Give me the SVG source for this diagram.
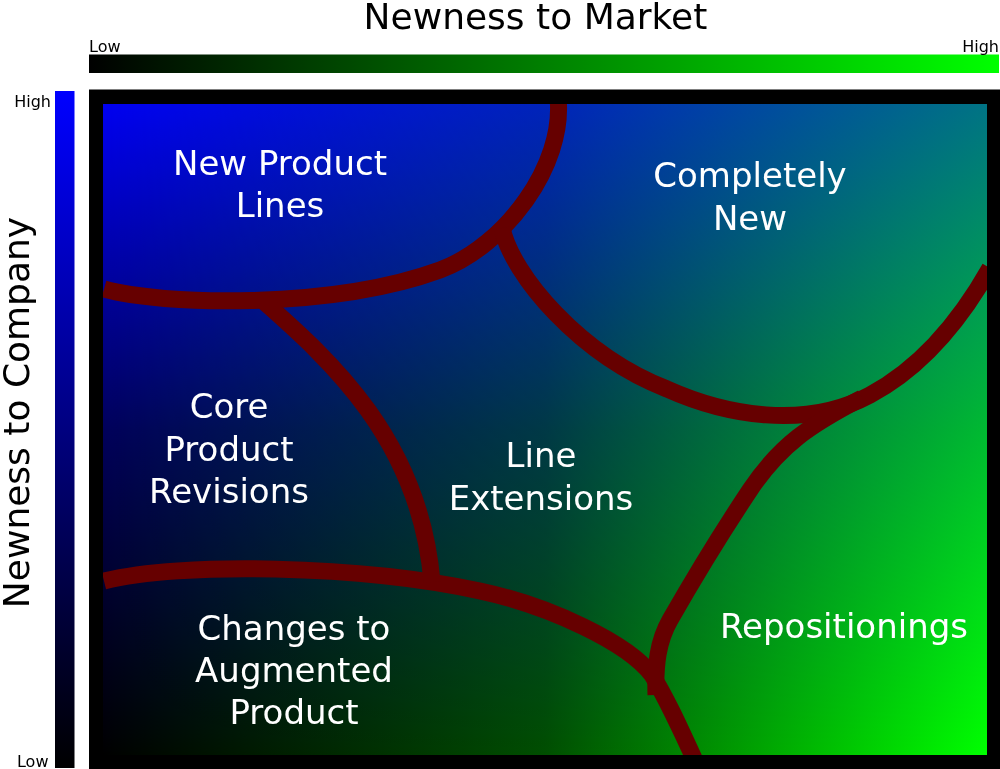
<svg xmlns="http://www.w3.org/2000/svg" width="1000" height="769" viewBox="0 0 1000 769">
<defs>
<style>
text { font-family: "DejaVu Sans", "Liberation Sans", sans-serif; }
.title { font-size: 36px; fill: #000; }
.tick { font-size: 16px; fill: #000; }
.region { font-size: 34px; fill: #fff; text-anchor: middle; }
.boundary { fill: none; stroke: #660000; stroke-width: 17; stroke-linecap: butt; }
</style>
<linearGradient id="barH" x1="0" y1="0" x2="1" y2="0">
<stop offset="0" stop-color="#000"/><stop offset="1" stop-color="#00ff00"/>
</linearGradient>
<linearGradient id="barV" x1="0" y1="0" x2="0" y2="1">
<stop offset="0" stop-color="#0000ff"/><stop offset="1" stop-color="#000"/>
</linearGradient>
<linearGradient id="gH" x1="0" y1="0" x2="1" y2="0">
<stop offset="0" stop-color="#000"/><stop offset="0.5" stop-color="#004e00"/><stop offset="1" stop-color="#00ff00"/>
</linearGradient>
<linearGradient id="dimV" x1="0" y1="0" x2="0" y2="1">
<stop offset="0" stop-color="#000" stop-opacity="0.55"/><stop offset="1" stop-color="#000" stop-opacity="0"/>
</linearGradient>
<linearGradient id="bV" x1="0" y1="0" x2="0" y2="1">
<stop offset="0" stop-color="#0000f0"/><stop offset="0.5" stop-color="#00005a"/><stop offset="1" stop-color="#000"/>
</linearGradient>
<linearGradient id="dimH" x1="0" y1="0" x2="1" y2="0">
<stop offset="0" stop-color="#000" stop-opacity="0"/><stop offset="1" stop-color="#000" stop-opacity="0.45"/>
</linearGradient>
<clipPath id="innerClip"><rect x="103" y="104" width="884" height="651"/></clipPath>
</defs>

<rect width="1000" height="769" fill="#fff"/>

<g id="axis-market">
<text class="title" x="535.5" y="29" text-anchor="middle">Newness to Market</text>
<rect x="89" y="54.5" width="910" height="18.5" fill="url(#barH)"/>
<text class="tick" x="89" y="52">Low</text>
<text class="tick" x="999" y="52" text-anchor="end">High</text>
</g>

<g id="axis-company">
<text class="title" transform="rotate(-90)" x="-412.5" y="29" text-anchor="middle">Newness to Company</text>
<rect x="55" y="91" width="19.5" height="677" fill="url(#barV)"/>
<text class="tick" x="51" y="107" text-anchor="end">High</text>
<text class="tick" x="48.5" y="767" text-anchor="end">Low</text>
</g>

<g id="field">
<rect x="89" y="89.5" width="911" height="679.5" fill="#000"/>
<rect x="103" y="104" width="884" height="651" fill="#000"/>
<rect x="103" y="104" width="884" height="651" fill="url(#gH)"/>
<rect x="103" y="104" width="884" height="651" fill="url(#dimV)"/>
<g style="mix-blend-mode:screen">
<rect x="103" y="104" width="884" height="651" fill="url(#bV)"/>
<rect x="103" y="104" width="884" height="651" fill="url(#dimH)"/>
</g>
</g>

<g id="connectors" clip-path="url(#innerClip)">
<path class="boundary" d="M 104 289 C 160 305, 330 310, 440 270 C 505 246, 565 165, 558 98"/>
<path class="boundary" d="M 502 228 C 512 275, 580 355, 667 389 C 725 415, 805 430, 870 395 C 915 371, 955 330, 990 268"/>
<path class="boundary" d="M 862 398 C 810 425, 780 445, 750 490 C 720 535, 690 585, 670 620 C 658 641, 655 665, 656 695"/>
<path class="boundary" d="M 104 581 C 180 562, 360 565, 480 591 C 550 606, 628 643, 652 675 C 666 697, 680 728, 697 765"/>
<path class="boundary" d="M 262 300 C 330 360, 420 440, 432 582"/>
</g>

<g id="new-product-lines">
<text class="region" x="280" y="174.5">New Product</text>
<text class="region" x="280" y="217">Lines</text>
</g>
<g id="completely-new">
<text class="region" x="750" y="187">Completely</text>
<text class="region" x="750" y="229.5">New</text>
</g>
<g id="core-product-revisions">
<text class="region" x="229" y="418">Core</text>
<text class="region" x="229" y="460.5">Product</text>
<text class="region" x="229" y="503">Revisions</text>
</g>
<g id="line-extensions">
<text class="region" x="541" y="467">Line</text>
<text class="region" x="541" y="509.5">Extensions</text>
</g>
<g id="changes-to-augmented-product">
<text class="region" x="294" y="640">Changes to</text>
<text class="region" x="294" y="682">Augmented</text>
<text class="region" x="294" y="724">Product</text>
</g>
<g id="repositionings">
<text class="region" x="844" y="638">Repositionings</text>
</g>
</svg>
